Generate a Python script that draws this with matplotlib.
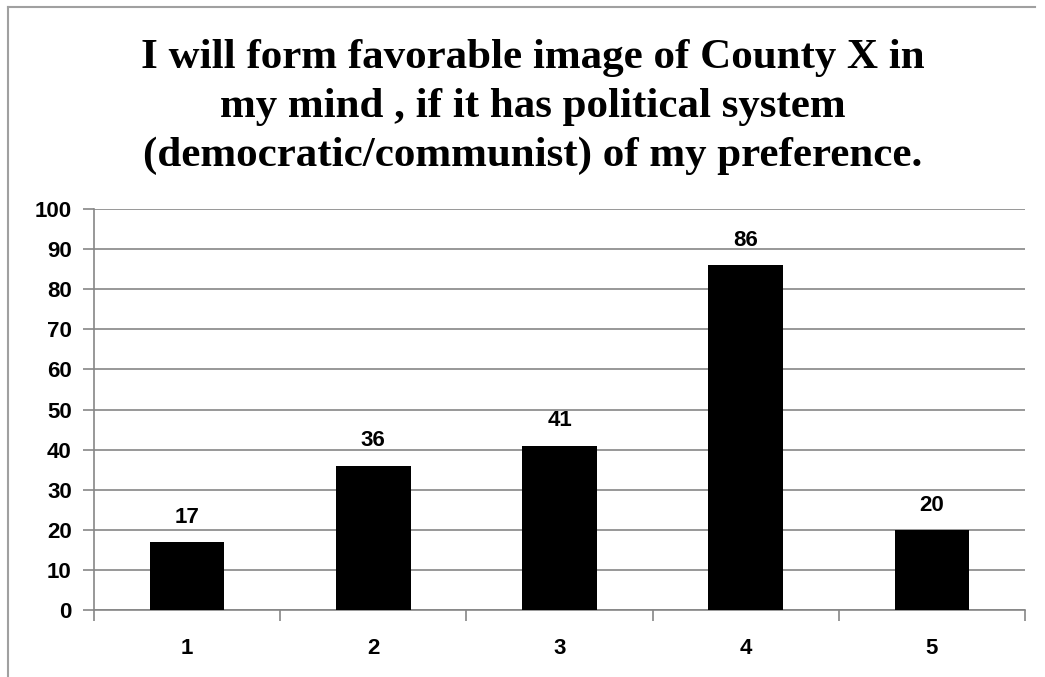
import matplotlib
matplotlib.use("Agg")
import matplotlib.pyplot as plt
from matplotlib.lines import Line2D

categories = ["1", "2", "3", "4", "5"]
values = [17, 36, 41, 86, 20]
y_ticks = list(range(0, 101, 10))
title = ("I will form favorable image of County X in\n"
         "my mind , if it has political system\n"
         "(democratic/communist) of my preference.")

W, H = 1045, 677
fig = plt.figure(figsize=(W / 100, H / 100), dpi=100)
ax = fig.add_axes([94 / W, 1 - 610 / H, (1025 - 94) / W, (610 - 209) / H])

grid_col = "#868686"
lab_font = dict(fontsize=16, fontweight="bold", family="Liberation Sans")
x = list(range(len(categories)))
bars = ax.bar(x, values, width=0.4, color="black", zorder=3)
for b, v in zip(bars, values):
    ax.text(b.get_x() + b.get_width() / 2, v + 4.8, str(v), ha="center", va="baseline", **lab_font)

ax.set_xlim(-0.5, len(categories) - 0.5)
ax.set_ylim(0, 100)
ax.set_yticks(y_ticks)
ax.set_yticklabels([str(t) for t in y_ticks], **lab_font)
ax.yaxis.grid(True, color=grid_col, linewidth=1.2, zorder=0)
ax.tick_params(axis="y", length=8, color=grid_col, width=1.2, pad=8)

# category labels centred, tick marks on boundaries
ax.set_xticks([i - 0.5 for i in range(len(categories) + 1)])
ax.set_xticklabels([])
ax.set_xticks(x, minor=True)
ax.set_xticklabels(categories, minor=True, **lab_font)
ax.tick_params(axis="x", which="major", length=8, color=grid_col, width=1.2, direction="out")
ax.tick_params(axis="x", which="minor", length=0, pad=20)

for s in ["top", "right"]:
    ax.spines[s].set_visible(False)
for s in ["left", "bottom"]:
    ax.spines[s].set_color(grid_col)
    ax.spines[s].set_linewidth(1.2)

fig.text(0.51, 1 - 107 / H, title, ha="center", va="center", fontsize=31,
         fontweight="bold", family="Liberation Serif", linespacing=1.36)

# outer chart frame (left and top edges)
fig.add_artist(Line2D([8 / W, 8 / W], [0, 1 - 7 / H], color="#a0a0a0", linewidth=1.5))
fig.add_artist(Line2D([8 / W, 1035 / W], [1 - 7 / H, 1 - 7 / H], color="#a0a0a0", linewidth=1.5))

fig.savefig("out.png", dpi=100)
